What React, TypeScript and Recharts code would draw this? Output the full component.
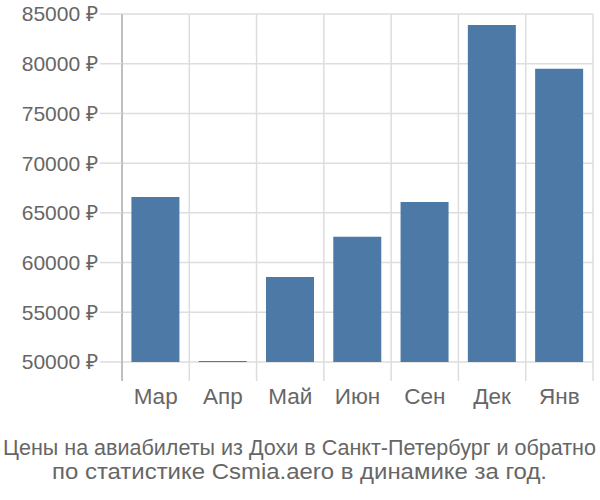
import { BarChart, Bar, XAxis, YAxis, CartesianGrid } from 'recharts';

const months = ['Мар', 'Апр', 'Май', 'Июн', 'Сен', 'Дек', 'Янв'];
const prices = [66600, 50100, 58550, 62600, 66100, 83900, 79500];
const yTicks = [50000, 55000, 60000, 65000, 70000, 75000, 80000, 85000];
const titleLines = [
  'Цены на авиабилеты из Дохи в Санкт-Петербург и обратно',
  'по статистике Csmia.aero в динамике за год.',
];
// measured widths of the two caption lines in the reference
const titleWidths = [593, 495];

const data = months.map((month, i) => ({ month, price: prices[i] }));

const FONT = '"Liberation Sans", Arial, sans-serif';
const TEXT = '#666666';
const GRID = '#dddddd';
const AXIS = '#aaaaaa';

// draws the month label plus the short boundary lines under the plot
function MonthTick(props: any) {
  const { x, y, payload, index, width, visibleTicksCount } = props;
  const half = width / visibleTicksCount / 2;
  const top = y - 8;
  return (
    <g>
      <line x1={x - half} x2={x - half} y1={top} y2={top + 19} stroke={index === 0 ? AXIS : GRID} strokeWidth={1.5} />
      {index === visibleTicksCount - 1 && (
        <line x1={x + half} x2={x + half} y1={top} y2={top + 19} stroke={GRID} strokeWidth={1.5} />
      )}
      <text x={x} y={y + 34} textAnchor="middle" fill={TEXT} fontSize={22.5} fontFamily={FONT}>
        {payload.value}
      </text>
    </g>
  );
}

export default function App() {
  return (
    <div style={{ position: 'absolute', left: 0, top: 0, width: 600, height: 500, background: '#fff' }}>
      <BarChart
        width={600}
        height={420}
        data={data}
        margin={{ top: 14, right: 7, left: 0, bottom: 18 }}
        barCategoryGap="14%"
      >
        <CartesianGrid
          stroke={GRID}
          strokeWidth={1.5}
          verticalCoordinatesGenerator={({ offset }: any) =>
            months.map((_, i) => offset.left + (i + 1) * (offset.width / months.length))
          }
        />
        <XAxis
          dataKey="month"
          axisLine={false}
          tickLine={false}
          height={40}
          interval={0}
          tick={<MonthTick />}
        />
        <YAxis
          domain={[50000, 85000]}
          ticks={yTicks}
          width={122}
          axisLine={{ stroke: AXIS, strokeWidth: 1.5 }}
          tickLine={{ stroke: GRID, strokeWidth: 1.5 }}
          tickSize={22}
          tickMargin={2}
          tickFormatter={(v: number) => `${v} ₽`}
          tick={{ fill: TEXT, fontSize: 21, fontFamily: FONT }}
        />
        <Bar dataKey="price" fill="#4d79a6" isAnimationActive={false} />
      </BarChart>
      <svg width={600} height={80} style={{ position: 'absolute', left: 0, top: 420 }}>
        {titleLines.map((line, i) => (
          <text
            key={line}
            x={299.5}
            y={35 + i * 24}
            textAnchor="middle"
            fill={TEXT}
            fontSize={22}
            fontFamily={FONT}
            textLength={titleWidths[i]}
            lengthAdjust="spacingAndGlyphs"
          >
            {line}
          </text>
        ))}
      </svg>
    </div>
  );
}
